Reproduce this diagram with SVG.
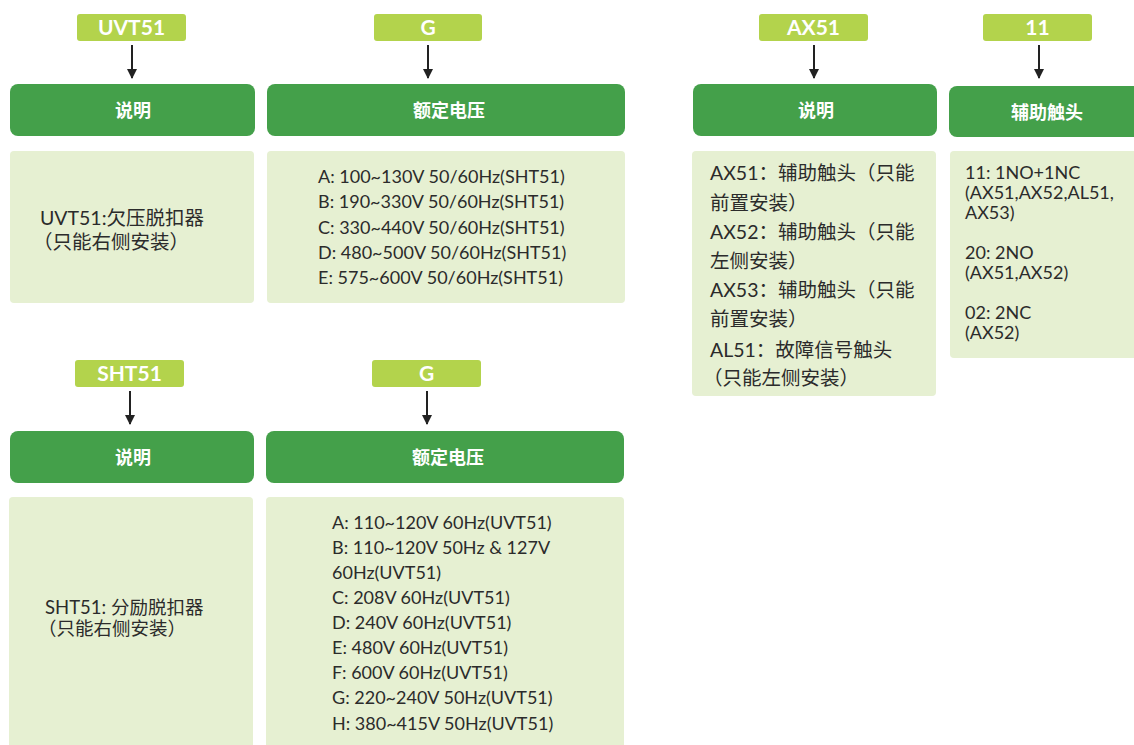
<svg xmlns="http://www.w3.org/2000/svg" width="1134" height="745" viewBox="0 0 1134 745">
<defs>
<style>
.tag{fill:#b3d34c}
.hdr{fill:#44a04a}
.box{fill:#e6f0d2}
.tagt{font-family:"Lato","Noto Sans CJK SC",sans-serif;font-weight:bold;font-size:21px;fill:#fff;text-anchor:middle}
.hdrt{font-family:"Noto Sans CJK SC",sans-serif;font-weight:bold;font-size:18px;fill:#fff;text-anchor:middle}
.t{font-family:"Lato","Noto Sans CJK SC",sans-serif;font-size:18px;fill:#2b2b2b}
.tc{font-family:"Lato","Noto Sans CJK SC",sans-serif;font-size:19.5px;fill:#2b2b2b}
.ts{font-family:"Lato","Noto Sans CJK SC",sans-serif;font-size:18.5px;fill:#2b2b2b}
.arr{stroke:#222;stroke-width:2;fill:none}
</style>
<marker id="ah" viewBox="0 0 10 10" refX="9" refY="5" markerWidth="5" markerHeight="5" orient="auto" markerUnits="strokeWidth">
<path d="M0,0 L10,5 L0,10 z" fill="#222"/>
</marker>
</defs>
<rect width="1134" height="745" fill="#fff"/>

<g id="connectors">
<line class="arr" x1="132" y1="45" x2="132" y2="78" marker-end="url(#ah)"/>
<line class="arr" x1="428" y1="45" x2="428" y2="78" marker-end="url(#ah)"/>
<line class="arr" x1="814" y1="45" x2="814" y2="78" marker-end="url(#ah)"/>
<line class="arr" x1="1039" y1="45" x2="1039" y2="78" marker-end="url(#ah)"/>
<line class="arr" x1="130" y1="391" x2="130" y2="424" marker-end="url(#ah)"/>
<line class="arr" x1="427" y1="391" x2="427" y2="424" marker-end="url(#ah)"/>
</g>

<g id="tag-uvt51"><rect class="tag" x="77" y="14" width="109" height="27" rx="3"/><text class="tagt" x="131.5" y="35">UVT51</text></g>
<g id="tag-g1"><rect class="tag" x="374" y="14" width="108" height="27" rx="3"/><text class="tagt" x="428" y="35">G</text></g>
<g id="tag-ax51"><rect class="tag" x="759" y="14" width="109" height="27" rx="3"/><text class="tagt" x="813.5" y="35">AX51</text></g>
<g id="tag-11"><rect class="tag" x="983" y="14" width="109" height="27" rx="3"/><text class="tagt" x="1037.5" y="35">11</text></g>
<g id="tag-sht51"><rect class="tag" x="75" y="360" width="109" height="27" rx="3"/><text class="tagt" x="129.5" y="381">SHT51</text></g>
<g id="tag-g2"><rect class="tag" x="372" y="360" width="109" height="27" rx="3"/><text class="tagt" x="426.5" y="381">G</text></g>

<g id="hdr-desc1"><rect class="hdr" x="10" y="84" width="245" height="52" rx="8"/><text class="hdrt" x="133" y="117">说明</text></g>
<g id="hdr-volt1"><rect class="hdr" x="267" y="84" width="358" height="52" rx="8"/><text class="hdrt" x="449" y="117">额定电压</text></g>
<g id="hdr-desc2"><rect class="hdr" x="693" y="84" width="244" height="52" rx="8"/><text class="hdrt" x="816" y="117">说明</text></g>
<g id="hdr-aux"><rect class="hdr" x="949" y="86" width="195" height="51" rx="8"/><text class="hdrt" x="1047" y="119">辅助触头</text></g>
<g id="hdr-desc3"><rect class="hdr" x="10" y="431" width="244" height="52" rx="8"/><text class="hdrt" x="133" y="464">说明</text></g>
<g id="hdr-volt2"><rect class="hdr" x="266" y="431" width="358" height="52" rx="8"/><text class="hdrt" x="448" y="464">额定电压</text></g>

<g id="box-uvt51"><rect class="box" x="10" y="151" width="244" height="152" rx="4"/>
<text class="tc" x="40" y="225">UVT51:欠压脱扣器</text>
<text class="tc" x="33" y="249">（只能右侧安装）</text></g>

<g id="box-volt1"><rect class="box" x="267" y="151" width="358" height="152" rx="4"/>
<text class="t" x="318" y="183">A: 100~130V 50/60Hz(SHT51)</text>
<text class="t" x="318" y="208">B: 190~330V 50/60Hz(SHT51)</text>
<text class="t" x="318" y="234">C: 330~440V 50/60Hz(SHT51)</text>
<text class="t" x="318" y="259">D: 480~500V 50/60Hz(SHT51)</text>
<text class="t" x="318" y="284">E: 575~600V 50/60Hz(SHT51)</text></g>

<g id="box-ax"><rect class="box" x="692" y="151" width="244" height="245" rx="4"/>
<text class="tc" x="710" y="180">AX51：辅助触头（只能</text>
<text class="tc" x="710" y="210">前置安装）</text>
<text class="tc" x="710" y="239">AX52：辅助触头（只能</text>
<text class="tc" x="710" y="268">左侧安装）</text>
<text class="tc" x="710" y="297">AX53：辅助触头（只能</text>
<text class="tc" x="710" y="326">前置安装）</text>
<text class="tc" x="710" y="357">AL51：故障信号触头</text>
<text class="tc" x="703" y="385">（只能左侧安装）</text></g>

<g id="box-aux"><rect class="box" x="950" y="151" width="194" height="207" rx="4"/>
<text class="t" x="965" y="179">11: 1NO+1NC</text>
<text class="t" x="965" y="199">(AX51,AX52,AL51,</text>
<text class="t" x="965" y="219">AX53)</text>
<text class="t" x="965" y="259">20: 2NO</text>
<text class="t" x="965" y="279">(AX51,AX52)</text>
<text class="t" x="965" y="319">02: 2NC</text>
<text class="t" x="965" y="339">(AX52)</text></g>

<g id="box-sht51"><rect class="box" x="9" y="497" width="244" height="260" rx="4"/>
<text class="ts" x="45" y="614">SHT51: 分励脱扣器</text>
<text class="ts" x="38" y="635">（只能右侧安装）</text></g>

<g id="box-volt2"><rect class="box" x="266" y="497" width="358" height="260" rx="4"/>
<text class="t" x="332" y="529">A: 110~120V 60Hz(UVT51)</text>
<text class="t" x="332" y="554">B: 110~120V 50Hz &amp; 127V</text>
<text class="t" x="332" y="579">60Hz(UVT51)</text>
<text class="t" x="332" y="604">C: 208V 60Hz(UVT51)</text>
<text class="t" x="332" y="629">D: 240V 60Hz(UVT51)</text>
<text class="t" x="332" y="654">E: 480V 60Hz(UVT51)</text>
<text class="t" x="332" y="679">F: 600V 60Hz(UVT51)</text>
<text class="t" x="332" y="704">G: 220~240V 50Hz(UVT51)</text>
<text class="t" x="332" y="730">H: 380~415V 50Hz(UVT51)</text></g>
</svg>
